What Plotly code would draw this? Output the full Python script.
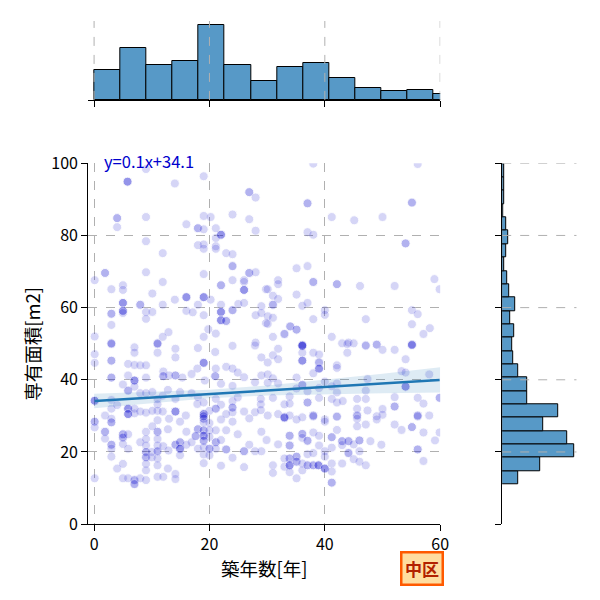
import numpy as np
import plotly.graph_objects as go

# Scatter data: (築年数, 専有面積), grouped by area of the plot
pts_upper_left = [
    (5.8, 94.9), (5.8, 94.9), (5.8, 94.9), (9.0, 98.4), (14.0, 94.4), (19.0, 96.4), (26.9, 92.0), (26.9, 92.0),
    (28.0, 90.5), (4.0, 84.8), (4.0, 84.8), (4.0, 82.3), (9.0, 85.1), (16.0, 83.1), (18.0, 82.0), (18.0, 82.0),
    (19.0, 85.4), (20.2, 85.1), (19.0, 81.7), (21.1, 82.0), (22.0, 80.2), (22.0, 80.2), (22.0, 80.2), (21.1, 79.3),
    (24.0, 85.8), (26.9, 84.5), (28.0, 81.3), (9.0, 78.4), (18.0, 77.3), (19.0, 77.5), (19.0, 76.3), (21.1, 77.0),
    (21.1, 76.3), (11.9, 75.1), (22.9, 75.1), (24.0, 74.8), (24.0, 71.5), (24.0, 71.5), (1.9, 69.6), (1.9, 69.6),
    (9.0, 69.8), (19.0, 69.3), (26.9, 69.6), (26.9, 69.6), (28.0, 69.8), (0.1, 67.6), (11.9, 67.1), (24.0, 67.6),
    (26.0, 67.6), (26.0, 67.1), (3.0, 65.1), (5.0, 66.2), (5.0, 64.9), (10.1, 63.9), (22.0, 66.2), (22.0, 66.2),
    (26.0, 64.9), (26.0, 64.9), (26.0, 64.9), (29.8, 65.1), (5.0, 61.3), (5.0, 61.3), (5.0, 61.3), (8.0, 60.8),
    (8.0, 60.8), (11.9, 60.8), (14.0, 62.2), (16.0, 62.9), (16.0, 62.9), (16.0, 62.9), (18.0, 60.8), (19.0, 62.9),
    (19.0, 62.9), (19.0, 62.9), (20.2, 62.2), (22.0, 60.8), (25.0, 61.0), (26.0, 61.3), (29.0, 60.4), (5.0, 59.1),
    (5.0, 59.1), (5.0, 59.1), (5.0, 58.5), (3.0, 58.3), (3.0, 58.3), (3.0, 55.2), (9.0, 58.8), (10.1, 58.8),
    (16.0, 59.1), (17.1, 58.7), (19.0, 57.9), (22.0, 58.8), (22.0, 58.8), (22.0, 58.8), (22.0, 56.5), (22.0, 56.5),
    (22.0, 56.5), (22.9, 56.3), (22.9, 56.3), (24.0, 59.3), (24.0, 59.3), (28.0, 57.9), (29.0, 58.5), (29.8, 55.7),
    (9.0, 56.9), (12.9, 53.2), (11.9, 51.9), (0.1, 52.0), (19.0, 51.9), (19.8, 54.0), (21.1, 52.8), (3.0, 50.1),
    (3.0, 50.1), (11.0, 50.1), (11.0, 50.1), (28.0, 50.3),
]
pts_upper_right = [
    (38.0, 99.9), (56.1, 99.8), (37.0, 88.9), (37.0, 88.9), (55.1, 89.1), (55.1, 89.1), (41.2, 85.1), (45.1, 84.2),
    (50.0, 85.1), (37.0, 80.9), (38.0, 80.2), (54.0, 77.8), (54.0, 77.8), (35.1, 70.9), (37.0, 71.5), (31.9, 67.6),
    (31.9, 66.5), (38.0, 67.1), (38.0, 67.1), (42.1, 66.5), (42.1, 66.5), (46.1, 66.0), (52.1, 66.0), (59.0, 67.9),
    (59.9, 65.1), (30.1, 65.1), (31.0, 63.3), (31.9, 62.4), (31.0, 60.8), (31.0, 60.8), (35.1, 63.6), (36.1, 60.5),
    (37.0, 61.3), (40.0, 59.3), (40.0, 58.0), (38.0, 56.8), (47.1, 56.8), (55.1, 59.3), (56.1, 58.2), (30.1, 57.6),
    (31.0, 57.2), (30.1, 55.5), (34.0, 54.8), (34.0, 54.8), (35.1, 53.9), (35.1, 53.9), (33.0, 52.7), (33.0, 52.7),
    (31.0, 51.9), (55.1, 55.4), (58.2, 54.3), (57.1, 52.7), (41.2, 51.9), (43.0, 50.1), (44.1, 50.3), (47.1, 49.6),
    (49.0, 49.8), (55.1, 49.8), (55.1, 49.8), (36.1, 49.6), (36.1, 49.6), (36.1, 49.6),
]
pts_middle_left = [
    (3.0, 49.9), (7.0, 49.0), (11.0, 49.9), (14.1, 48.6), (18.0, 48.8), (21.0, 47.7), (24.0, 49.4), (27.9, 49.5),
    (29.0, 46.2), (7.0, 47.5), (11.0, 47.5), (14.1, 46.2), (0.1, 47.1), (0.1, 44.7), (3.0, 45.3), (3.0, 45.3),
    (5.9, 44.4), (7.0, 44.1), (8.0, 44.0), (9.0, 44.0), (19.0, 44.7), (19.0, 44.7), (19.0, 44.7), (17.9, 43.1),
    (16.9, 41.6), (12.0, 42.3), (12.0, 41.0), (12.0, 41.0), (14.1, 41.2), (14.1, 41.2), (21.0, 41.0), (21.0, 41.0),
    (21.1, 43.1), (22.9, 43.6), (24.0, 43.1), (24.9, 42.0), (26.0, 40.7), (29.0, 41.2), (3.0, 40.6), (3.0, 40.6),
    (5.9, 41.2), (7.0, 39.8), (7.0, 39.8), (7.0, 39.8), (9.0, 40.6), (13.0, 41.2), (15.3, 40.6), (19.2, 39.8),
    (27.9, 39.3), (5.0, 38.7), (5.9, 37.0), (5.9, 37.0), (7.0, 38.1), (12.8, 37.2), (22.0, 38.9), (24.0, 38.3),
    (0.1, 34.2), (0.1, 34.2), (0.1, 34.2), (3.0, 34.4), (8.0, 36.3), (9.0, 36.3), (10.1, 36.6), (11.0, 34.7),
    (11.0, 33.2), (11.0, 31.4), (11.9, 35.6), (14.1, 34.7), (14.9, 36.6), (16.9, 36.3), (18.0, 35.2), (21.1, 34.7),
    (22.0, 33.1), (24.0, 34.1), (24.9, 35.1), (28.9, 34.7), (28.9, 33.2), (3.0, 32.0), (5.9, 32.0), (5.9, 32.0),
    (5.9, 32.0), (7.0, 32.0), (5.9, 30.5), (5.9, 30.5), (5.9, 30.5), (7.0, 30.7), (8.0, 31.2), (9.0, 30.9),
    (10.1, 31.4), (11.9, 31.2), (14.1, 31.2), (14.1, 31.2), (14.1, 31.2), (15.9, 30.1), (17.9, 33.3), (19.0, 33.7),
    (19.0, 30.5), (19.0, 30.5), (19.0, 30.5), (21.1, 32.0), (21.1, 32.0), (20.0, 31.4), (24.0, 32.3), (24.0, 32.3),
    (24.0, 31.0), (22.9, 30.5), (26.0, 31.2), (27.9, 31.0), (28.9, 31.6), (1.9, 30.1), (3.0, 29.2), (13.0, 29.2),
    (19.0, 29.2), (19.0, 29.2), (4.0, 33.0),
]
pts_middle_right = [
    (31.9, 48.6), (36.1, 49.4), (36.1, 49.4), (36.1, 49.4), (36.1, 47.5), (36.1, 45.3), (36.1, 45.3), (36.1, 45.3),
    (38.0, 47.5), (39.0, 47.0), (39.0, 44.8), (39.0, 44.8), (39.0, 43.1), (39.0, 43.1), (39.0, 43.1), (43.9, 49.9),
    (45.0, 50.1), (43.9, 47.5), (47.1, 49.4), (49.0, 49.7), (50.0, 48.3), (52.1, 48.3), (55.1, 49.6), (55.1, 49.6),
    (54.0, 45.7), (31.0, 46.8), (31.9, 45.7), (30.1, 44.8), (42.1, 44.0), (42.1, 43.3), (38.0, 41.8), (30.1, 41.5),
    (31.0, 40.4), (35.1, 40.6), (30.1, 39.2), (31.9, 39.0), (36.1, 38.6), (36.1, 38.6), (40.0, 39.5), (42.1, 39.0),
    (47.4, 40.2), (53.3, 42.4), (54.0, 42.0), (58.1, 41.5), (54.0, 38.1), (54.0, 38.1), (54.0, 38.1), (35.1, 37.6),
    (37.0, 36.8), (39.0, 37.7), (41.2, 38.2), (42.1, 36.5), (47.1, 37.0), (31.0, 35.0), (33.9, 35.4), (39.0, 35.0),
    (41.2, 34.7), (45.6, 34.7), (47.1, 34.7), (52.1, 35.2), (56.1, 35.0), (59.9, 35.0), (59.9, 35.0), (33.0, 33.2),
    (33.9, 33.4), (37.0, 33.7), (37.0, 33.7), (42.1, 33.7), (43.1, 34.1), (45.6, 32.0), (47.4, 31.5), (50.0, 31.9),
    (52.1, 32.6), (52.1, 32.6), (57.1, 33.4), (30.1, 30.1), (31.9, 30.5), (33.0, 29.6), (33.0, 29.6), (33.0, 29.6),
    (33.9, 30.1), (36.1, 29.6), (38.0, 30.1), (38.0, 30.1), (40.0, 29.0), (42.1, 29.8), (45.6, 30.1), (45.6, 30.1),
    (49.0, 29.9), (50.0, 30.3), (56.1, 30.1), (56.1, 30.1), (58.1, 30.1),
]
pts_lower_left = [
    (0.1, 28.4), (0.1, 28.4), (0.1, 26.8), (0.1, 12.7), (1.9, 25.6), (1.9, 25.6), (1.9, 23.7), (3.0, 28.2),
    (3.0, 28.2), (3.0, 22.0), (3.0, 22.0), (3.0, 20.9), (3.0, 18.7), (5.0, 24.9), (5.0, 24.9), (5.0, 24.0),
    (5.0, 24.0), (5.0, 22.2), (5.9, 24.9), (5.9, 20.9), (4.0, 15.4), (5.0, 16.7), (5.0, 12.7), (5.9, 12.7),
    (7.0, 12.2), (7.0, 12.2), (7.0, 11.1), (7.0, 11.1), (8.0, 22.7), (8.0, 12.7), (9.0, 25.6), (9.0, 23.6),
    (9.0, 21.8), (9.0, 20.0), (9.0, 20.0), (9.0, 18.5), (9.0, 18.5), (9.0, 16.7), (9.0, 14.9), (9.0, 12.2),
    (10.0, 20.0), (10.0, 18.5), (11.0, 28.8), (11.0, 25.6), (11.0, 25.6), (11.0, 23.6), (11.0, 21.8), (11.0, 20.2),
    (11.0, 20.2), (11.0, 18.2), (11.0, 16.3), (11.0, 13.1), (12.0, 21.6), (12.0, 13.1), (12.8, 26.3), (12.8, 15.4),
    (14.1, 22.0), (14.1, 22.0), (14.1, 13.9), (14.1, 12.5), (14.9, 28.4), (14.9, 22.7), (14.9, 22.7), (14.9, 20.9),
    (14.9, 20.9), (14.9, 20.9), (14.9, 19.1), (16.0, 25.6), (16.0, 22.0), (16.9, 22.7), (18.0, 26.3), (18.0, 26.3),
    (18.0, 20.9), (19.0, 29.9), (19.0, 29.9), (19.0, 28.2), (19.0, 26.0), (19.0, 26.0), (19.0, 24.5), (19.0, 24.5),
    (19.0, 24.5), (19.0, 23.1), (19.0, 23.1), (19.0, 21.3), (19.0, 19.3), (19.0, 16.9), (20.0, 28.0), (20.0, 26.0),
    (20.0, 24.2), (20.0, 20.9), (20.0, 20.9), (20.0, 19.1), (21.1, 26.0), (21.1, 22.7), (21.1, 22.7), (21.1, 20.9),
    (22.0, 29.0), (22.0, 23.3), (22.0, 16.2), (22.9, 26.0), (22.9, 20.7), (22.9, 20.7), (24.0, 28.4), (24.0, 18.4),
    (24.9, 24.9), (26.0, 20.2), (26.0, 20.2), (26.0, 15.8), (26.9, 29.3), (26.9, 22.0), (27.9, 20.2), (29.0, 25.6),
    (29.0, 20.2), (29.9, 23.3), (10.1, 27.1), (12.9, 20.4), (17.6, 24.4), (17.6, 24.4),
]
pts_lower_right = [
    (33.0, 29.4), (35.1, 29.0), (38.0, 29.8), (40.0, 28.4), (42.1, 29.8), (45.6, 29.2), (45.6, 27.1), (47.1, 27.6),
    (49.0, 29.0), (52.1, 27.6), (53.3, 26.1), (55.1, 26.9), (55.1, 26.9), (56.1, 29.8), (57.1, 25.4), (59.1, 23.2),
    (59.9, 25.4), (31.9, 22.1), (33.9, 24.5), (33.9, 24.5), (33.9, 21.8), (33.9, 21.8), (36.1, 25.0), (36.1, 25.0),
    (36.1, 23.9), (37.0, 23.1), (37.0, 23.1), (38.0, 25.4), (39.0, 24.5), (39.0, 21.8), (41.2, 24.1), (41.2, 24.1),
    (41.2, 21.2), (42.1, 26.1), (43.0, 23.0), (43.0, 23.0), (43.0, 21.9), (44.1, 23.0), (44.1, 23.0), (44.1, 19.7),
    (44.1, 19.7), (45.0, 22.1), (46.0, 23.2), (46.0, 23.2), (46.0, 20.2), (47.9, 23.0), (49.8, 22.0), (56.1, 20.7),
    (56.1, 20.7), (57.1, 17.5), (31.0, 16.3), (31.0, 14.2), (33.0, 15.9), (33.9, 18.2), (33.9, 18.2), (33.9, 16.3),
    (33.9, 16.3), (33.9, 16.3), (33.9, 14.4), (35.1, 18.7), (35.1, 18.7), (35.1, 17.3), (35.1, 17.3), (35.1, 12.7),
    (36.1, 16.8), (36.1, 14.9), (37.0, 16.3), (37.0, 16.3), (38.0, 16.3), (38.0, 16.3), (38.9, 16.3), (38.9, 16.3),
    (38.9, 16.3), (40.0, 20.2), (40.0, 18.7), (40.0, 15.4), (40.0, 15.4), (40.0, 15.4), (41.2, 16.8), (41.2, 14.6),
    (41.2, 11.5), (41.2, 11.5), (43.0, 16.8), (45.0, 18.0), (46.0, 17.3), (47.1, 16.3), (33.0, 18.2), (37.0, 19.4),
    (38.0, 19.7),
]

# Marginal histograms (counts)
year_bin_start = 0.0
year_bin_width = 4.53
year_counts = [30, 52, 35, 39, 75, 35, 19, 33, 37, 22, 12, 9, 10, 6]

area_bin_start = 11.0
area_bin_width = 3.7
area_counts = [16, 38, 73, 66, 41, 57, 25, 25, 16, 11, 10, 12, 8, 13, 7, 5, 2, 4, 6, 4, 1, 2, 2, 2]

# Regression line and confidence band
fit_slope = 0.098
fit_intercept = 34.1
ci_x = [0, 10, 20, 30, 40, 50, 60]
ci_half = [2.0, 1.5, 1.2, 1.4, 2.0, 2.7, 3.5]

x_ticks = [0, 20, 40, 60]
y_ticks = [0, 20, 40, 60, 80, 100]
ward = "中区"

all_pts = pts_upper_left + pts_upper_right + pts_middle_left + pts_middle_right + pts_lower_left + pts_lower_right
years = np.array([p[0] for p in all_pts])
areas = np.array([p[1] for p in all_pts])

FONT = "Noto Sans CJK JP, Noto Sans, sans-serif"
BAR_COLOR = "rgb(87,153,199)"
LINE_COLOR = "#1f77b4"
GRID = "#b0b0b0"

year_centers = year_bin_start + year_bin_width * (np.arange(len(year_counts)) + 0.5)
area_centers = area_bin_start + area_bin_width * (np.arange(len(area_counts)) + 0.5)

fit_x = np.linspace(years.min(), years.max(), 50)
fit_y = fit_intercept + fit_slope * fit_x
band_x = np.array(ci_x, dtype=float)
band_mid = fit_intercept + fit_slope * band_x
band_hi = band_mid + np.array(ci_half)
band_lo = band_mid - np.array(ci_half)

fig = go.Figure()

fig.add_trace(go.Scatter(
    x=years, y=areas, mode="markers",
    marker=dict(size=9, color="mediumblue", opacity=0.16, line=dict(color="white", width=0.9)),
    xaxis="x", yaxis="y", showlegend=False,
))
fig.add_trace(go.Scatter(
    x=np.concatenate([band_x, band_x[::-1]]),
    y=np.concatenate([band_hi, band_lo[::-1]]),
    fill="toself", fillcolor="rgba(31,119,180,0.15)", line=dict(width=0),
    mode="lines", xaxis="x", yaxis="y", showlegend=False, hoverinfo="skip",
))
fig.add_trace(go.Scatter(
    x=fit_x, y=fit_y, mode="lines", line=dict(color=LINE_COLOR, width=2.5),
    xaxis="x", yaxis="y", showlegend=False,
))

fig.add_trace(go.Bar(
    x=year_centers, y=year_counts, width=year_bin_width,
    marker=dict(color=BAR_COLOR, line=dict(color="black", width=1)),
    xaxis="x2", yaxis="y2", showlegend=False,
))
fig.add_trace(go.Bar(
    y=area_centers, x=area_counts, width=area_bin_width, orientation="h",
    marker=dict(color=BAR_COLOR, line=dict(color="black", width=1)),
    xaxis="x3", yaxis="y3", showlegend=False,
))

axis_common = dict(
    showline=True, linecolor="black", linewidth=1.3,
    ticks="outside", ticklen=6, tickwidth=1.3, tickcolor="black",
    gridcolor=GRID, griddash="dash", gridwidth=1, zeroline=False,
    tickfont=dict(size=16),
)

main_x = [0.1359, 0.7313]
main_y = [0.1265, 0.753]

# dashed grid drawn over the marginal bars, as in the original
grid_shapes = [
    dict(type="line", xref="x2", yref="y2 domain", x0=v, x1=v, y0=0, y1=1, layer="above",
         line=dict(color=GRID, width=1, dash="dash"))
    for v in x_ticks
] + [
    dict(type="line", xref="x3 domain", yref="y3", x0=0, x1=1, y0=v, y1=v, layer="above",
         line=dict(color=GRID, width=1, dash="dash"))
    for v in y_ticks[1:]
]

fig.update_layout(
    width=600, height=600,
    margin=dict(l=0, r=0, t=0, b=0),
    paper_bgcolor="white", plot_bgcolor="white",
    font=dict(family=FONT, size=15, color="black"),
    bargap=0,
    xaxis=dict(domain=main_x, range=[-1.0, 60], tickvals=x_ticks, anchor="y", **axis_common),
    yaxis=dict(domain=main_y, range=[0, 100], tickvals=y_ticks, anchor="x", **axis_common),
    xaxis2=dict(domain=main_x, range=[-1.0, 60], tickvals=x_ticks, showticklabels=False,
                anchor="y2", **{**axis_common, "showgrid": False}),
    yaxis2=dict(domain=[0.863, 1.0], range=[0, 79.3], visible=False, anchor="x2"),
    xaxis3=dict(domain=[0.8362, 0.9619], range=[0, 75], visible=False, anchor="y3"),
    yaxis3=dict(domain=main_y, range=[0, 100], tickvals=y_ticks, showticklabels=False,
                anchor="x3", **{**axis_common, "showgrid": False}),
    shapes=grid_shapes,
    annotations=[
        dict(text=f"y={fit_slope:.1f}x+{fit_intercept:.1f}", xref="paper", yref="paper",
             x=0.159, y=0.757, xanchor="left", yanchor="middle", showarrow=False,
             font=dict(size=16.5, color="mediumblue")),
        dict(text="築年数[年]", xref="paper", yref="paper", x=0.4333, y=0.0503,
             xanchor="center", yanchor="middle", showarrow=False, font=dict(size=18.5)),
        dict(text="専有面積[m2]", xref="paper", yref="paper", x=0.0394, y=0.44, textangle=-90,
             xanchor="center", yanchor="middle", showarrow=False, font=dict(size=18.5)),
        dict(text=f"<b>{ward}</b>", xref="paper", yref="paper", x=0.701, y=0.050,
             xanchor="center", yanchor="middle", showarrow=False,
             font=dict(size=17, color="#B22000"), bgcolor="#FFDDA0",
             bordercolor="#FF5A00", borderwidth=2.5, borderpad=2.5),
    ],
)

fig.write_html("out.html")
